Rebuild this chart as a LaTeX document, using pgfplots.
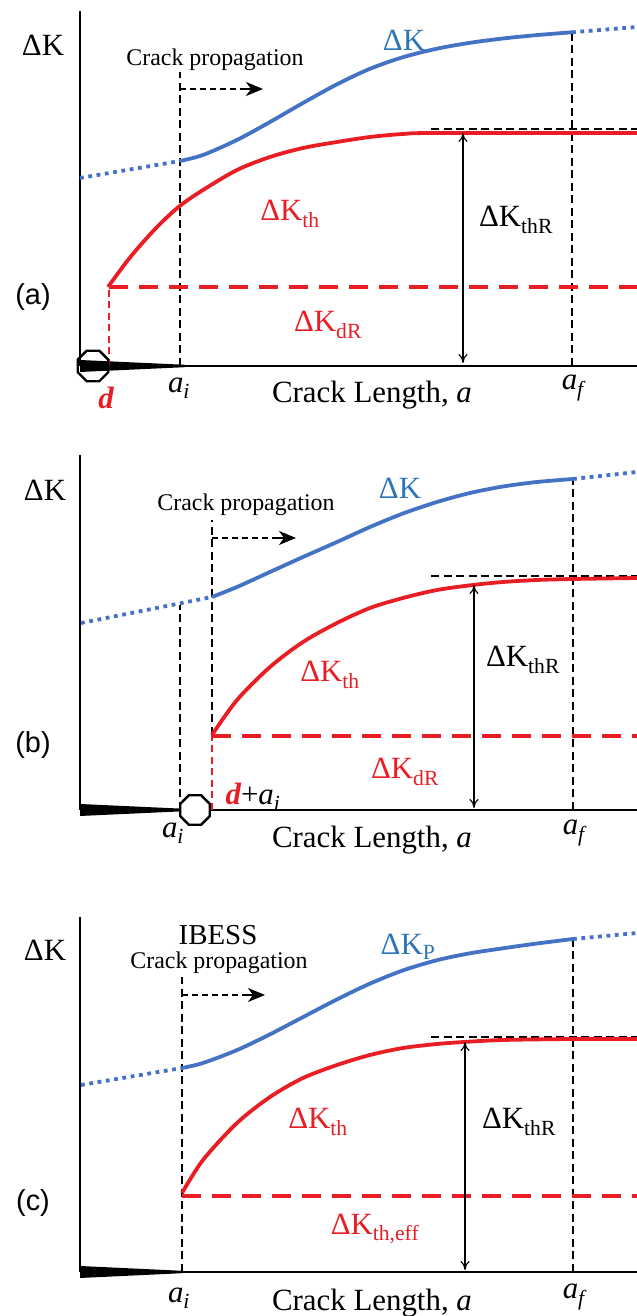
\documentclass[border=0pt]{standalone}
\usepackage{fontspec}
\setmainfont{Liberation Serif}
\newfontfamily\arial{Liberation Sans}
\usepackage{pgfplots}
\pgfplotsset{compat=1.18}
\usetikzlibrary{arrows.meta}
\definecolor{cblue}{RGB}{68,114,196}
\definecolor{cred}{RGB}{232,30,36}
\definecolor{tblue}{RGB}{46,117,182}
\pgfdeclareplotmark{oct}{%
 \pgfpathmoveto{\pgfpointpolar{22.5}{\pgfplotmarksize}}%
 \pgfpathlineto{\pgfpointpolar{67.5}{\pgfplotmarksize}}%
 \pgfpathlineto{\pgfpointpolar{112.5}{\pgfplotmarksize}}%
 \pgfpathlineto{\pgfpointpolar{157.5}{\pgfplotmarksize}}%
 \pgfpathlineto{\pgfpointpolar{202.5}{\pgfplotmarksize}}%
 \pgfpathlineto{\pgfpointpolar{247.5}{\pgfplotmarksize}}%
 \pgfpathlineto{\pgfpointpolar{292.5}{\pgfplotmarksize}}%
 \pgfpathlineto{\pgfpointpolar{337.5}{\pgfplotmarksize}}%
 \pgfpathclose\pgfusepathqstroke}
\pgfdeclareplotmark{octf}{%
 \pgfpathmoveto{\pgfpointpolar{22.5}{\pgfplotmarksize}}%
 \pgfpathlineto{\pgfpointpolar{67.5}{\pgfplotmarksize}}%
 \pgfpathlineto{\pgfpointpolar{112.5}{\pgfplotmarksize}}%
 \pgfpathlineto{\pgfpointpolar{157.5}{\pgfplotmarksize}}%
 \pgfpathlineto{\pgfpointpolar{202.5}{\pgfplotmarksize}}%
 \pgfpathlineto{\pgfpointpolar{247.5}{\pgfplotmarksize}}%
 \pgfpathlineto{\pgfpointpolar{292.5}{\pgfplotmarksize}}%
 \pgfpathlineto{\pgfpointpolar{337.5}{\pgfplotmarksize}}%
 \pgfpathclose\pgfusepathqfillstroke}
\newcommand{\fa}{\fontsize{31}{34}\selectfont}
\newcommand{\fb}{\fontsize{24}{27}\selectfont}
\newcommand{\fc}{\fontsize{29}{32}\selectfont}
\pgfplotsset{
 panel/.style={scale only axis, width=557bp, height=355bp,
   xmin=80, xmax=637, ymin=0, ymax=355,
   axis x line=bottom, axis y line=left,
   axis line style={-, line width=2.6bp},
   xtick=\empty, ytick=\empty, clip=false, anchor=south west},
 bsolid/.style={cblue, line width=3.8bp, smooth, tension=0.5},
 bdot/.style={cblue, line width=3.8bp, dash pattern=on 3.8bp off 4.6bp},
 rsolid/.style={cred, line width=3.8bp, smooth, tension=0.5},
 rdash/.style={cred, line width=4.2bp, dash pattern=on 19bp off 11bp},
 kdash/.style={black, line width=1.6bp, dash pattern=on 8bp off 4.5bp},
 rthin/.style={cred, line width=1.6bp, dash pattern=on 7bp off 4.5bp},
 darrow/.style={black, line width=1.1bp, {To[length=9bp,width=9bp]}-{To[length=9bp,width=9bp]}},
 pline/.style={black, line width=1.6bp, dash pattern=on 6bp off 4bp},
 phead/.style={black, line width=1.6bp, -{Stealth[length=17bp,width=14bp,inset=5bp]}},
 wedge/.style={fill=black, draw=none},
}
\begin{document}
\begin{tikzpicture}
\path[use as bounding box] (0,0) rectangle (637bp,1316bp);
% ---------------- (a)
\begin{axis}[panel, at={(80bp,950bp)}]
\addplot[wedge] coordinates {(80,-6) (185,-1.2) (185,1.2) (80,6)};
\addplot[kdash] coordinates {(180,0) (180,294)};
\addplot[kdash] coordinates {(572,0) (572,334)};
\addplot[kdash] coordinates {(431,237) (637,237)};
\addplot[rthin] coordinates {(109,0) (109,79)};
\addplot[rdash] coordinates {(109,79) (637,79)};
\addplot[bdot] coordinates {(80,188) (180,205)};
\addplot[bsolid] coordinates {(180,205) (203,211) (237,226) (270,244) (303,263) (337,281.7) (370,297.2) (403,308.8) (437,317.3) (470,323.2) (503,327.5) (537,330.9) (572,333.7)};
\addplot[bdot] coordinates {(572,333.7) (637,339)};
\addplot[rsolid] coordinates {(108,79) (128,106) (145,126) (162,144) (181,161) (203,176) (237,196) (270,209) (303,218) (337,224) (370,229) (403,232) (437,233) (637,233)};
\addplot[darrow] coordinates {(463,233) (463,3)};
\addplot[pline] coordinates {(180,277) (252,277)};
\addplot[phead] coordinates {(246,277) (263,277)};
\addplot[only marks, mark=oct, mark size=16.5bp, mark options={line width=2.4bp, black}] coordinates {(93,0)};
\node[font=\fa] at (axis cs:43,321) {ΔK};
\node[font=\fb] at (axis cs:215,306) {Crack propagation};
\node[font=\fa, text=tblue] at (axis cs:404,326) {ΔK};
\node[font=\fa, text=cred] at (axis cs:290,152) {ΔK\textsubscript{th}};
\node[font=\fa, text=cred] at (axis cs:328,41) {ΔK\textsubscript{dR}};
\node[font=\fa] at (axis cs:516,146) {ΔK\textsubscript{thR}};
\node[font=\fc\arial] at (axis cs:33,69) {(a)};
\node[font=\fa, text=cred] at (axis cs:106,-32) {\bfseries\itshape d};
\node[font=\fa] at (axis cs:179,-22) {\textit{a}\textsubscript{\textit{i}}};
\node[font=\fa] at (axis cs:372,-29) {Crack Length, \textit{a}};
\node[font=\fa] at (axis cs:574,-22) {\textit{a}\textsubscript{\textit{f}}};
\end{axis}
% ---------------- (b)
\begin{axis}[panel, at={(80bp,506bp)}]
\addplot[wedge] coordinates {(80,-6) (185,-1.2) (185,1.2) (80,6)};
\addplot[kdash] coordinates {(180,0) (180,205)};
\addplot[kdash] coordinates {(212,75) (212,290)};
\addplot[kdash] coordinates {(573,0) (573,331)};
\addplot[kdash] coordinates {(431,234) (637,234)};
\addplot[rthin] coordinates {(212,0) (212,75)};
\addplot[rdash] coordinates {(212,74) (637,74)};
\addplot[bdot] coordinates {(81,187) (212,213)};
\addplot[bsolid] coordinates {(212,213) (237,223) (270,238) (303,253) (337,268) (370,283) (403,296.5) (437,308) (470,317) (503,323.5) (537,328) (573,331)};
\addplot[bdot] coordinates {(573,331) (637,338)};
\addplot[rsolid] coordinates {(212,75) (237,110) (270,143) (303,168) (337,187) (370,202) (403,212) (437,220) (473,225) (503,228) (537,230) (573,231) (637,232)};
\addplot[darrow] coordinates {(474,225) (474,2)};
\addplot[pline] coordinates {(212,272) (284,272)};
\addplot[phead] coordinates {(278,272) (296,272)};
\addplot[only marks, mark=octf, mark size=16bp, mark options={line width=2.4bp, draw=black, fill=white}] coordinates {(195,0)};
\node[font=\fa] at (axis cs:45,320) {ΔK};
\node[font=\fb] at (axis cs:246,305) {Crack propagation};
\node[font=\fa, text=tblue] at (axis cs:400,322) {ΔK};
\node[font=\fa, text=cred] at (axis cs:330,135) {ΔK\textsubscript{th}};
\node[font=\fa, text=cred] at (axis cs:405,38) {ΔK\textsubscript{dR}};
\node[font=\fa] at (axis cs:523,150) {ΔK\textsubscript{thR}};
\node[font=\fc\arial] at (axis cs:33,65) {(b)};
\node[font=\fa] at (axis cs:253,13) {\textcolor{cred}{\bfseries\itshape d}+\textit{a}\textsubscript{\textit{i}}};
\node[font=\fa] at (axis cs:173,-23) {\textit{a}\textsubscript{\textit{i}}};
\node[font=\fa] at (axis cs:372,-30) {Crack Length, \textit{a}};
\node[font=\fa] at (axis cs:575,-23) {\textit{a}\textsubscript{\textit{f}}};
\end{axis}
% ---------------- (c)
\begin{axis}[panel, at={(80bp,44bp)}]
\addplot[wedge] coordinates {(80,-6) (182,-1.2) (182,1.2) (80,6)};
\addplot[kdash] coordinates {(182,0) (182,295)};
\addplot[kdash] coordinates {(573,0) (573,333)};
\addplot[kdash] coordinates {(431,235) (637,235)};
\addplot[rdash] coordinates {(182,76) (637,76)};
\addplot[bdot] coordinates {(81,187) (182,204)};
\addplot[bsolid] coordinates {(182,204) (203,209) (237,221.9) (270,237.7) (303,254.9) (337,272.6) (370,288.4) (403,301.6) (437,311.8) (470,318.7) (503,323.7) (537,328.5) (573,333)};
\addplot[bdot] coordinates {(573,333) (637,339)};
\addplot[rsolid] coordinates {(182,79) (203,112) (237,149) (270,175) (303,194) (337,207) (370,217) (403,224) (437,228) (464,230) (503,232) (573,233) (637,233)};
\addplot[darrow] coordinates {(465,230) (465,2)};
\addplot[pline] coordinates {(182,277) (253,277)};
\addplot[phead] coordinates {(247,277) (265,277)};
\node[font=\fa] at (axis cs:45,322) {ΔK};
\node[font=\fc] at (axis cs:218,337) {IBESS};
\node[font=\fb] at (axis cs:219,309) {Crack propagation};
\node[font=\fa, text=tblue] at (axis cs:408,325) {ΔK\textsubscript{P}};
\node[font=\fa, text=cred] at (axis cs:318,150) {ΔK\textsubscript{th}};
\node[font=\fa, text=cred] at (axis cs:375,43) {ΔK\textsubscript{th,eff}};
\node[font=\fa] at (axis cs:519,150) {ΔK\textsubscript{thR}};
\node[font=\fc\arial] at (axis cs:33,69) {(c)};
\node[font=\fa] at (axis cs:179,-26) {\textit{a}\textsubscript{\textit{i}}};
\node[font=\fa] at (axis cs:372,-31) {Crack Length, \textit{a}};
\node[font=\fa] at (axis cs:575,-25) {\textit{a}\textsubscript{\textit{f}}};
\end{axis}
\end{tikzpicture}
\end{document}
